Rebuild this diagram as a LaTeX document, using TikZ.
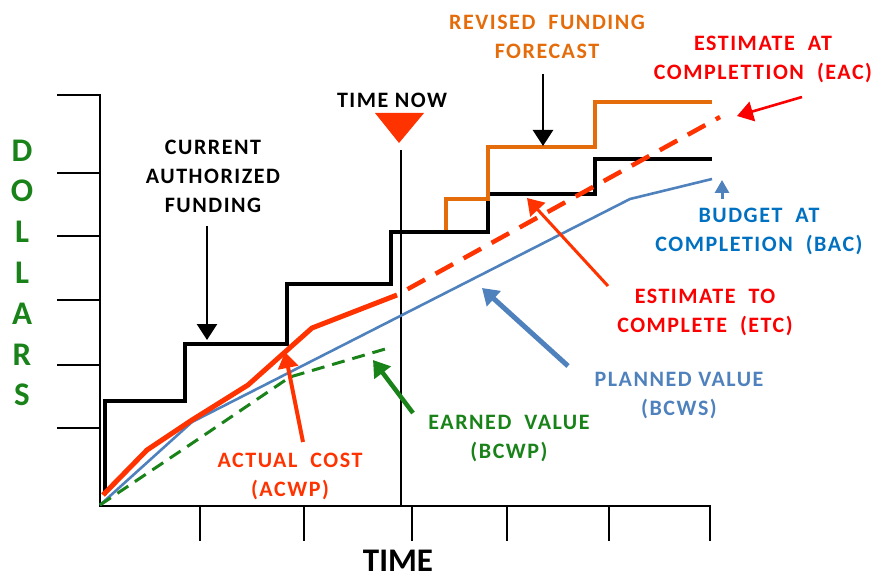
\documentclass[tikz,border=0pt]{standalone}
\usepackage{fontspec}
\setmainfont{Carlito}
\newfontfamily\labfont[LetterSpace=7]{Carlito}
\usetikzlibrary{arrows.meta}
\definecolor{acred}{RGB}{255,51,0}
\definecolor{labred}{RGB}{250,0,0}
\definecolor{revorange}{RGB}{228,108,10}
\definecolor{pvblue}{RGB}{79,129,189}
\definecolor{bacblue}{RGB}{0,112,192}
\definecolor{evgreen}{RGB}{25,130,25}

\begin{document}
\begin{tikzpicture}[x=1pt, y=-1pt,
    lab/.style={font=\labfont\fontsize{22}{29}\selectfont\bfseries, align=center, inner sep=0pt},
    bigtext/.style={font=\fontsize{33}{40.8}\selectfont\bfseries, align=center, inner sep=0pt},
    axis/.style={line width=1.8pt, line cap=rect},
    callout/.style={-{Triangle[width=20pt,length=16pt]}, line width=2.6pt},
    stairs/.style={line width=4.5pt, line join=miter}
]
\useasboundingbox (0,0) rectangle (881,580);

% axes and ticks
\draw[axis] (100,95) -- (100,506) -- (710,506);
\foreach \y in {95,173,236,300,365,428}
    \draw[axis] (58,\y) -- (100,\y);
\foreach \x in {200,304,412,507,609,710}
    \draw[axis] (\x,506) -- (\x,540);

% time now
\draw[line width=2.6pt] (401,150) -- (401,506);
\fill[acred] (375,113) -- (424,113) -- (399,143) -- cycle;

% funding
\draw[stairs] (105,495) |- (185,401) |- (287,344) |- (391,284) |- (488,232)
    |- (595,194) |- (712,159);
\draw[stairs, revorange, line width=4pt] (446,230) |- (488,199) |- (595,147) |- (712,102);

% planned, earned, actual
\draw[pvblue, line width=2.6pt] (100,505) -- (192,422) -- (630,199) -- (712,179);
\draw[evgreen, line width=3pt, dash pattern=on 13pt off 8pt] (100,505) -- (200,438)
    -- (290,377) -- (392,347);
\draw[acred, line width=5pt, line join=round] (103,495) -- (147,450) -- (192,420)
    -- (248,385) -- (312,328) -- (397,295);
\draw[acred, line width=4.5pt, dash pattern=on 20pt off 12pt, dash phase=20pt]
    (397,295) -- (720,117);

% labels
\node[bigtext, evgreen] (dollars) at (22,273) {D\\O\\L\\L\\A\\R\\S};
\node[bigtext] (time) at (398,561) {TIME};
\node[lab] (now) at (392,100) {TIME NOW};
\node[lab] (caf) at (213,176) {CURRENT\\AUTHORIZED\\FUNDING};
\node[lab, revorange] (rff) at (547,37) {REVISED \ FUNDING\\FORECAST};
\node[lab, labred] (eac) at (763,59) {ESTIMATE \ AT\\COMPLETTION \ (EAC)};
\node[lab, bacblue] (bac) at (759,231) {BUDGET \ AT\\COMPLETION \ (BAC)};
\node[lab, labred] (etc) at (705,312) {ESTIMATE \ TO\\COMPLETE \ (ETC)};
\node[lab, pvblue] (pv) at (679,396) {PLANNED VALUE\\(BCWS)};
\node[lab, evgreen] (ev) at (509,439) {EARNED \ VALUE\\(BCWP)};
\node[lab, acred] (ac) at (290,476) {ACTUAL \ COST\\(ACWP)};

% callout arrows
\coordinate (cafA) at (207,226);   \coordinate (cafB) at (207,340);
\coordinate (rffA) at (543,74);    \coordinate (rffB) at (543,146);
\coordinate (eacA) at (802,97);    \coordinate (eacB) at (737,116);
\coordinate (bacA) at (722,199);   \coordinate (bacB) at (722,180);
\coordinate (etcA) at (608,286);   \coordinate (etcB) at (527,198);
\coordinate (pvA) at (568,366);    \coordinate (pvB) at (482,288);
\coordinate (evA) at (413,413);    \coordinate (evB) at (373,360);
\coordinate (acA) at (303,442);    \coordinate (acB) at (285,352);
\draw[callout] (cafA) -- (cafB);
\draw[callout] (rffA) -- (rffB);
\draw[callout, labred, line width=2.6pt] (eacA) -- (eacB);
\draw[callout, pvblue, line width=3pt, -{Triangle[width=14pt,length=13pt]}] (bacA) -- (bacB);
\draw[callout, acred, line width=3pt] (etcA) -- (etcB);
\draw[callout, pvblue, line width=5pt] (pvA) -- (pvB);
\draw[callout, evgreen, line width=4.5pt] (evA) -- (evB);
\draw[callout, acred, line width=4pt] (acA) -- (acB);
\end{tikzpicture}
\end{document}
